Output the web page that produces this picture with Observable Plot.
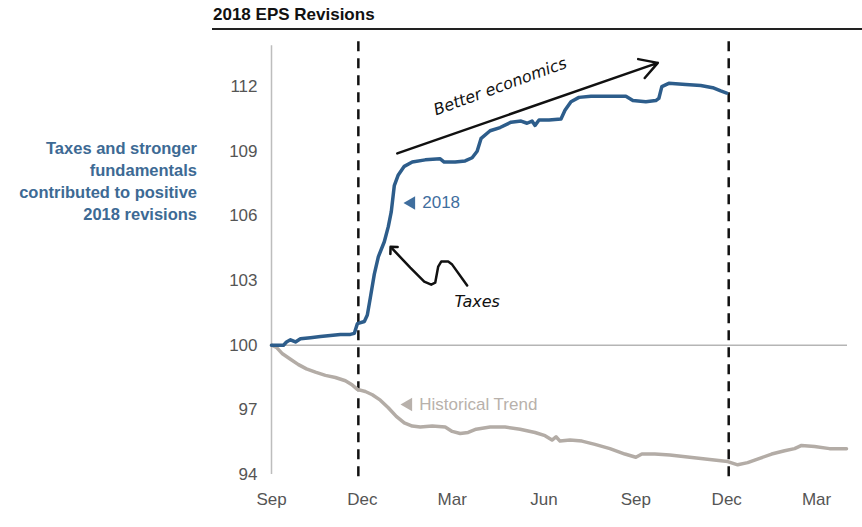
<!DOCTYPE html>
<html>
<head>
<meta charset="utf-8">
<script src="https://cdn.jsdelivr.net/npm/d3@7"></script>
<script src="https://cdn.jsdelivr.net/npm/@observablehq/plot@0.6"></script>
<style>
  html, body { margin: 0; padding: 0; background: #fff; }
  #wrap { position: relative; width: 862px; height: 527px; overflow: hidden; }
  #chart { position: absolute; left: 0; top: 0; }
  #title { position: absolute; left: 213px; top: 5px; font: bold 17px "Liberation Sans", Arial, sans-serif; color: #111; z-index: 2; }
  #rule { position: absolute; left: 212px; top: 28px; width: 650px; height: 2px; background: #222; z-index: 2; }
  #note { position: absolute; left: 0; top: 137px; width: 197px; text-align: right; font: bold 16.5px/22px "Liberation Sans", Arial, sans-serif; color: #3d6a94; z-index: 2; }
</style>
</head>
<body>
<div id="wrap">
  <div id="title">2018 EPS Revisions</div>
  <div id="rule"></div>
  <div id="note">Taxes and stronger<br>fundamentals<br>contributed to positive<br>2018 revisions</div>
  <div id="chart"></div>
</div>
<script>
// ---- data ----
const eps2018Dates = ["2017-09-01","2017-09-13","2017-09-16","2017-09-20","2017-09-25","2017-09-30","2017-10-10","2017-10-20","2017-10-30","2017-11-09","2017-11-19","2017-11-23","2017-11-26","2017-12-03","2017-12-06","2017-12-09","2017-12-13","2017-12-17","2017-12-23","2017-12-27","2017-12-30","2018-01-02","2018-01-06","2018-01-12","2018-01-20","2018-02-02","2018-02-17","2018-02-21","2018-03-04","2018-03-14","2018-03-21","2018-03-26","2018-03-30","2018-04-08","2018-04-18","2018-04-29","2018-05-09","2018-05-15","2018-05-20","2018-05-23","2018-05-27","2018-06-06","2018-06-18","2018-06-22","2018-06-28","2018-07-06","2018-07-18","2018-08-07","2018-08-22","2018-08-29","2018-09-11","2018-09-21","2018-09-24","2018-09-27","2018-10-04","2018-10-21","2018-11-05","2018-11-17","2018-11-25","2018-12-01"];
const eps2018Values = [100.0,100.0,100.15,100.25,100.15,100.3,100.35,100.4,100.45,100.5,100.5,100.55,101.0,101.1,101.4,102.2,103.3,104.1,104.8,105.5,106.2,107.4,107.9,108.3,108.5,108.6,108.65,108.5,108.5,108.55,108.7,109.0,109.6,109.95,110.1,110.35,110.4,110.3,110.4,110.2,110.45,110.45,110.5,110.9,111.3,111.5,111.55,111.55,111.55,111.35,111.3,111.35,111.45,112.0,112.15,112.1,112.05,111.95,111.8,111.7];

const histDates = ["2017-09-01","2017-09-06","2017-09-12","2017-09-20","2017-09-28","2017-10-06","2017-10-15","2017-10-25","2017-11-04","2017-11-14","2017-11-21","2017-11-26","2017-12-04","2017-12-11","2017-12-19","2017-12-27","2018-01-04","2018-01-12","2018-01-20","2018-01-28","2018-02-09","2018-02-22","2018-03-01","2018-03-09","2018-03-17","2018-03-25","2018-04-08","2018-04-23","2018-05-08","2018-05-23","2018-06-02","2018-06-09","2018-06-13","2018-06-17","2018-06-27","2018-07-09","2018-07-22","2018-08-06","2018-08-21","2018-09-01","2018-09-07","2018-09-20","2018-10-05","2018-10-25","2018-11-14","2018-12-02","2018-12-12","2018-12-22","2019-01-03","2019-01-15","2019-01-28","2019-02-07","2019-02-14","2019-02-27","2019-03-14","2019-03-31"];
const histValues = [100.0,99.9,99.6,99.35,99.1,98.9,98.75,98.6,98.5,98.35,98.15,97.95,97.85,97.7,97.45,97.1,96.7,96.4,96.25,96.2,96.25,96.2,96.0,95.9,95.95,96.1,96.2,96.2,96.1,95.95,95.8,95.6,95.75,95.55,95.6,95.55,95.4,95.2,94.95,94.8,94.95,94.95,94.9,94.8,94.7,94.6,94.45,94.55,94.75,94.95,95.1,95.2,95.35,95.3,95.2,95.2];

const xTickDates = ["2017-09-01","2017-12-01","2018-03-01","2018-06-01","2018-09-01","2018-12-01","2019-03-01"];
const yTicks = [94, 97, 100, 103, 106, 109, 112];
const xDomain = ["2017-09-01", "2019-04-01"];
const yDomain = [94, 114];
const decemberMarkers = ["2017-11-27", "2018-12-03"];
const baseline = 100;

// annotations (in data coordinates)
const seriesLabels = [
  {date: "2018-01-19", value: 106.6, text: "2018", color: "#3f6e9e"},
  {date: "2018-01-16", value: 97.25, text: "Historical Trend", color: "#b8b1ab"}
];
const econArrow = {from: ["2018-01-05", 108.9], to: ["2018-09-23", 113.1]};
const econText = {date: "2018-04-18", value: 112.0, text: "Better economics"};
const taxesText = {date: "2018-03-26", value: 102.0, text: "Taxes"};
const taxesPathDates = ["2018-03-16","2018-03-01","2018-02-25","2018-02-18","2018-02-15","2018-02-12","2018-02-08","2018-02-01","2018-01-18","2017-12-31"];
const taxesPathValues = [102.77, 103.74, 103.88, 103.88, 103.65, 102.9, 102.81, 102.95, 103.6, 104.48];

// ---- build ----
const P = d => new Date(d + "T00:00:00Z");
const eps = eps2018Dates.map((d, i) => ({date: P(d), value: eps2018Values[i]}));
const hist = histDates.map((d, i) => ({date: P(d), value: histValues[i]}));
const taxesPath = taxesPathDates.map((d, i) => ({date: P(d), value: taxesPathValues[i]}));
const labels = seriesLabels.map(l => ({...l, date: P(l.date)}));

const font = '"Liberation Sans Narrow", "Liberation Sans", Arial, sans-serif';
const hand = '"DejaVu Sans", sans-serif';

const chart = Plot.plot({
  width: 862,
  height: 527,
  marginLeft: 271,
  marginRight: 15,
  marginTop: 43,
  marginBottom: 53,
  style: {fontFamily: font, fontSize: "17px", background: "transparent", color: "#555"},
  x: {type: "utc", domain: xDomain.map(P)},
  y: {domain: yDomain},
  marks: [
    Plot.axisX({ticks: xTickDates.map(P), tickFormat: d3.utcFormat("%b"), tickSize: 0, tickPadding: 18, fontSize: 17, fill: "#555", label: null}),
    Plot.axisY({ticks: yTicks, tickSize: 0, tickPadding: 14, fontSize: 17, fill: "#555", label: null}),
    Plot.ruleX([P(xDomain[0])], {y1: 94, y2: 113.9, stroke: "#bdbdbd", strokeWidth: 1.5}),
    Plot.ruleY([baseline], {x1: P(xDomain[0]), x2: P(xDomain[1]), stroke: "#b5b5b5", strokeWidth: 1.5}),
    Plot.ruleX(decemberMarkers.map(P), {y1: 93.9, y2: 114.3, stroke: "#111", strokeWidth: 2.5, strokeDasharray: "10,7"}),
    Plot.line(hist, {x: "date", y: "value", stroke: "#b3aca6", strokeWidth: 3.5}),
    Plot.line(eps, {x: "date", y: "value", stroke: "#2d5d8b", strokeWidth: 3.5}),
    Plot.dot(labels, {x: "date", y: "value", symbol: "triangle", r: 5, rotate: -90, fill: "color", stroke: null}),
    Plot.text(labels, {x: "date", y: "value", text: "text", fill: "color", textAnchor: "start", dx: 11, fontSize: 17}),
    Plot.arrow([econArrow], {x1: d => P(d.from[0]), y1: d => d.from[1], x2: d => P(d.to[0]), y2: d => d.to[1], stroke: "#111", strokeWidth: 2.5, headLength: 12}),
    Plot.text([econText], {x: d => P(d.date), y: "value", text: "text", rotate: -20, fontStyle: "italic", fontSize: 16, fill: "#111", fontFamily: hand, letterSpacing: 1}),
    Plot.line(taxesPath, {x: "date", y: "value", stroke: "#111", strokeWidth: 2.5, markerEnd: "arrow"}),
    Plot.text([taxesText], {x: d => P(d.date), y: "value", text: "text", fontStyle: "italic", fontSize: 16, fill: "#111", fontFamily: hand})
  ]
});
document.getElementById("chart").appendChild(chart);
</script>
</body>
</html>
